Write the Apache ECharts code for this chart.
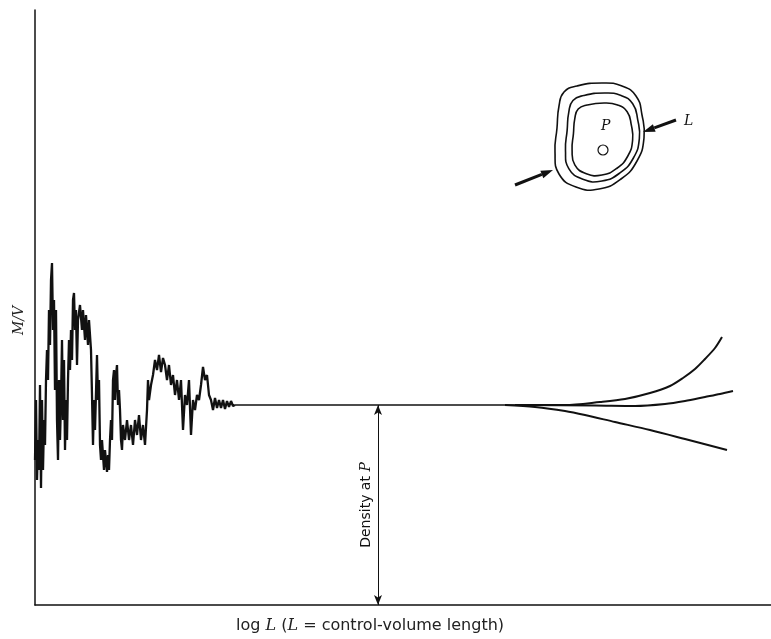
<!DOCTYPE html>
<html>
<head>
<meta charset="utf-8">
<script src="https://cdn.jsdelivr.net/npm/echarts@6/dist/echarts.min.js"></script>
<style>html,body{margin:0;padding:0;background:#fff}#c{width:771px;height:639px}</style>
</head>
<body>
<div id="c"></div>
<script>
// Values in arbitrary units: x = log L, y = M/V
const noiseTrace = [
 [0,145],[1,205],[2,125],[3,165],[4,135],[5,220],[6,117],[7,205],[8,135],[9,185],[10,160],
 [11,225],[12,255],[13,225],[14,295],[15,260],[16,325],[17,342],[18,275],[19,305],[20,215],
 [21,295],[22,185],[23,145],[24,225],[25,165],[26,205],[27,265],[28,185],[29,245],[30,155],
 [31,205],[32,165],[33,225],[34,265],[35,235],[36,275],[37,245],[38,305],[39,312],[40,275],
 [41,295],[42,240],[43,285],[45,300],[47,275],[48,295],[50,265],[51,290],[53,260],[54,285],
 [56,255],[57,210],[58,160],[59,205],[60,175],[62,250],[63,205],[64,225],[65,160],[66,145],
 [67,165],[69,135],[70,155],[72,133],[73,150],[74,135],[75,165],[76,185],[77,165],[78,225],
 [79,235],[80,205],[81,230],[82,240],[83,200],[84,215],[85,195],[86,165],[87,155],[88,180],
 [90,165],[92,185],[94,165],[96,180],[98,160],[100,185],[102,170],[104,190],[106,165],[108,180],
 [110,160],[112,195],[113,225],[114,205],[116,220],[118,230],[120,245],[122,235],[124,250],
 [126,233],[128,247],[130,240],[132,225],[134,240],[136,220],[138,230],[140,210],[142,225],
 [144,205],[146,225],[148,175],[150,210],[152,200],[154,225],[156,170],[158,205],[160,195],
 [162,210],[164,205],[166,220],[168,238],[170,225],[172,230],[174,210],[176,205],[178,195],
 [180,207],[182,197],[184,205],[186,197],[188,205],[190,196],[192,204],[194,198],[196,204],
 [198,199],[200,200]
];
const plateau = [[200,200],[480,200]];
const upperBranch = [[480,200],[530,200],[565,203],[590,206],[615,212],[635,219],[648,227],[660,236],[670,246],[680,257],[687,268]];
const middleBranch = [[480,200],[560,199.5],[600,199],[630,201],[650,204],[670,208],[685,211],[698,214]];
const lowerBranch = [[470,200],[500,198],[530,194],[550,190],[580,183],[615,175],[650,166],[692,155]];
const densityX = 343;
const densityValue = 200;
const yLabel = 'M/V';

const chart = echarts.init(document.getElementById('c'), null, {renderer:'canvas'});

// inset outline (pixel geometry of the illustration)
const blob = [[577,86],[602,83],[622,86],[636,96],[642,115],[644,138],[637,161],[621,179],[599,189],[576,187],[559,174],[555,152],[557,128],[559,106],[564,92]];
function scaled(pts, s, cx, cy){ return pts.map(p=>[cx+(p[0]-599)*s, cy+(p[1]-136)*s]); }
function arrowGraphic(x1,y1,x2,y2){
  const dx=x2-x1, dy=y2-y1, len=Math.hypot(dx,dy), ux=dx/len, uy=dy/len;
  const hl=12, hw=4;
  const bx=x2-ux*hl, by=y2-uy*hl;
  return [
    {type:'line', shape:{x1:x1,y1:y1,x2:bx,y2:by}, style:{stroke:'#111', lineWidth:3}},
    {type:'polygon', shape:{points:[[x2,y2],[bx-uy*hw,by+ux*hw],[bx+uy*hw,by-ux*hw]]}, style:{fill:'#111'}}
  ];
}

const option = {
  animation:false,
  backgroundColor:'#fff',
  grid:{left:35, right:0, top:10, bottom:34},
  xAxis:{type:'value', min:0, max:736, axisLine:{show:true, onZero:false, lineStyle:{color:'#111', width:1.5}}, axisTick:{show:false}, axisLabel:{show:false}, splitLine:{show:false}},
  yAxis:{type:'value', min:0, max:595, axisLine:{show:true, onZero:false, lineStyle:{color:'#111', width:1.5}}, axisTick:{show:false}, axisLabel:{show:false}, splitLine:{show:false}},
  series:[
    {type:'line', data:noiseTrace, showSymbol:false, lineStyle:{color:'#111', width:2.3}, z:3},
    {type:'line', data:plateau, showSymbol:false, lineStyle:{color:'#111', width:1.6},
     markLine:{silent:true, symbol:['arrow','arrow'], symbolSize:[6,10],
       lineStyle:{color:'#111', width:1, type:'solid'},
       label:{show:true, position:'middle', color:'#111', fontFamily:'DejaVu Sans', fontSize:14,
         backgroundColor:'#fff', padding:[0,5],
         formatter:'{a|Density at }{b|P}',
         rich:{a:{fontFamily:'DejaVu Sans', fontSize:14, color:'#111'}, b:{fontFamily:'DejaVu Serif', fontStyle:'italic', fontSize:14, color:'#111'}}},
       data:[[{coord:[densityX,0]},{coord:[densityX,densityValue]}]]}},
    {type:'line', data:upperBranch, smooth:0.3, showSymbol:false, lineStyle:{color:'#111', width:2}},
    {type:'line', data:middleBranch, smooth:0.3, showSymbol:false, lineStyle:{color:'#111', width:2}},
    {type:'line', data:lowerBranch, smooth:0.3, showSymbol:false, lineStyle:{color:'#111', width:2}}
  ],
  graphic:[
    {type:'text', left:236, top:618, style:{text:'{n|log }{i|L}{n| (}{i|L}{n| = control-volume length)}',
      rich:{n:{fontFamily:'DejaVu Sans', fontSize:16, fill:'#222'}, i:{fontFamily:'DejaVu Serif', fontStyle:'italic', fontSize:16, fill:'#222'}}}},
    {type:'text', x:12, y:335, rotation:Math.PI/2, style:{text:yLabel, font:'italic 14px "DejaVu Serif"', fill:'#222'}},
    {type:'polygon', shape:{points:blob, smooth:0.5}, style:{fill:'none', stroke:'#111', lineWidth:1.6}},
    {type:'polygon', shape:{points:scaled(blob,0.83,602,137), smooth:0.5}, style:{fill:'none', stroke:'#111', lineWidth:1.6}},
    {type:'polygon', shape:{points:scaled(blob,0.68,602,139), smooth:0.5}, style:{fill:'none', stroke:'#111', lineWidth:1.6}},
    {type:'circle', shape:{cx:603, cy:150, r:5}, style:{fill:'#fff', stroke:'#111', lineWidth:1.2}},
    {type:'text', x:601, y:119, style:{text:'P', font:'italic 14px "DejaVu Serif"', fill:'#111'}},
    {type:'text', x:684, y:114, style:{text:'L', font:'italic 14px "DejaVu Serif"', fill:'#111'}}
  ].concat(arrowGraphic(515,185,553,170), arrowGraphic(676,120,643,132))
};
chart.setOption(option);
</script>
</body>
</html>
